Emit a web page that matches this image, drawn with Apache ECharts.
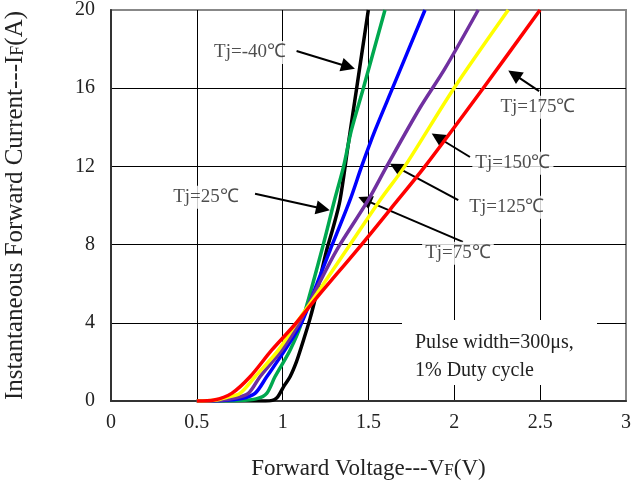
<!DOCTYPE html>
<html><head><meta charset="utf-8">
<script src="https://cdn.jsdelivr.net/npm/echarts@6/dist/echarts.min.js"></script>
<style>html,body{margin:0;padding:0;background:#fff}#c{width:632px;height:484px}</style>
</head><body><div id="c"></div>
<script>
// Forward voltage (V) vs instantaneous forward current (A) per junction temperature
const tjM40 = [[0.5,0],[0.9,0],[0.94,0.03],[0.965,0.15],[0.984,0.39],[1.01,0.8],[1.043,1.24],[1.08,2.0],[1.11,2.8],[1.159,4.2],[1.2,5.6],[1.256,7.71],[1.295,8.9],[1.334,10.27],[1.38,13],[1.431,16],[1.499,20]];
const tj25 = [[0.5,0],[0.75,0.02],[0.85,0.12],[0.907,0.39],[0.955,1.24],[1.043,2.6],[1.11,4],[1.228,7.71],[1.302,10.27],[1.355,12],[1.40,13.84],[1.47,16],[1.596,20]];
const tj75 = [[0.5,0],[0.65,0.02],[0.76,0.12],[0.839,0.39],[0.907,1.24],[1.013,2.6],[1.11,4],[1.2,6.0],[1.276,7.71],[1.392,10.27],[1.46,12],[1.538,13.84],[1.64,16],[1.829,20]];
const tj125 = [[0.5,0],[0.62,0.03],[0.72,0.15],[0.8,0.39],[0.868,1.24],[0.994,2.6],[1.097,4],[1.2,5.8],[1.314,7.71],[1.498,10.27],[1.606,12],[1.8,15],[1.945,17],[2.139,20]];
const tj150 = [[0.5,0],[0.6,0.04],[0.68,0.2],[0.751,0.39],[0.839,1.24],[0.975,2.6],[1.081,4],[1.2,5.5],[1.385,7.9],[1.567,10.27],[1.711,12],[1.998,16],[2.314,20]];
const tj175 = [[0.5,0],[0.6,0.05],[0.703,0.39],[0.81,1.24],[0.936,2.6],[1.07,3.9],[1.2,5.3],[1.45,7.9],[1.67,10.27],[1.829,12],[2.168,16],[2.499,20]];

const seriesNames = ['Tj=-40℃','Tj=25℃','Tj=75℃','Tj=125℃','Tj=150℃','Tj=175℃'];
const seriesData = [tjM40, tj25, tj75, tj125, tj150, tj175];
const seriesColors = ['#000000','#00A84F','#0000FF','#7030A0','#FFFF00','#FF0000'];

// annotation labels (centre, in V / A)
const labelTexts = ['Tj=-40℃','Tj=25℃','Tj=175℃','Tj=150℃','Tj=125℃','Tj=75℃'];
const labelPos = [[0.81,17.83],[0.553,10.42],[2.487,15.02],[2.341,12.16],[2.306,9.91],[2.021,7.56]];
// arrows: [fromV, fromI, headV, headI]
const arrows = [[1.081,17.9,1.382,17.1],[0.839,10.6,1.235,9.83],[2.494,15.85,2.348,16.71],[2.091,12.48,1.903,13.49],[2.023,10.27,1.661,11.97],[2.05,8.14,1.478,10.29]];

const noteText = 'Pulse width=300μs,\n1% Duty cycle';
const xTitle = 'Forward Voltage---V';
const yTitle = 'Instantaneous Forward Current---I';

const FONT = '"Liberation Serif", "Times New Roman", serif';
const chart = echarts.init(document.getElementById('c'), null, {renderer:'canvas'});

const lineSeries = seriesNames.map((n,i)=>({
  name:n, type:'line', data:seriesData[i], showSymbol:false, smooth:0.3,
  lineStyle:{color:seriesColors[i], width:3.5}, itemStyle:{color:seriesColors[i]},
  z:2+i, silent:true, animation:false
}));

const labelSeries = {
  type:'scatter', symbolSize:0, z:20, silent:true, animation:false,
  data: labelTexts.map((t,i)=>({name:t, value:labelPos[i]})),
  label:{show:true, position:'inside', formatter:'{b}', fontFamily:FONT, fontSize:19, color:'#222',
         backgroundColor:'#fff', padding:[2,3]}
};

const arrowSeries = {
  type:'line', data:[], z:21, silent:true, animation:false,
  markLine:{
    silent:true, animation:false, symbol:['none','triangle'], symbolSize:14,
    label:{show:false}, lineStyle:{color:'#000', width:2, type:'solid'},
    itemStyle:{color:'#000'},
    data: arrows.map(a=>[
      {coord:[a[0],a[1]], symbol:'none'},
      {coord:[a[2],a[3]], symbol:'triangle', symbolSize:14}
    ])
  }
};

const xRich = {a:{fontFamily:FONT, fontSize:23, color:'#222'}, s:{fontFamily:FONT, fontSize:17, color:'#222', verticalAlign:'bottom', padding:[0,0,1,0]}};
const yRich = {a:{fontFamily:FONT, fontSize:25, color:'#222'}, s:{fontFamily:FONT, fontSize:18, color:'#222', verticalAlign:'bottom', padding:[0,0,1,0]}};

chart.setOption({
  backgroundColor:'#fff',
  animation:false,
  grid:{left:111, right:6, top:10, bottom:83, outerBoundsMode:'none', containLabel:false,
        show:true, borderColor:'#888', borderWidth:2, backgroundColor:'transparent'},
  xAxis:{
    type:'value', min:0, max:3, interval:0.5,
    name:'{a|'+xTitle+'}{s|F}{a|(V)}', nameLocation:'middle', nameGap:56,
    nameTextStyle:{rich:xRich},
    axisLine:{show:true, onZero:false, lineStyle:{color:'#333', width:2}},
    axisTick:{show:false},
    splitLine:{show:true, showMinLine:false, showMaxLine:false, lineStyle:{color:'#000', width:1}},
    axisLabel:{fontFamily:FONT, fontSize:20, color:'#222', margin:12}
  },
  yAxis:{
    type:'value', min:0, max:20, interval:4,
    name:'{a|'+yTitle+'}{s|F}{a|(A)}', nameLocation:'middle', nameGap:83,
    nameTextStyle:{rich:yRich},
    axisLine:{show:true, onZero:false, lineStyle:{color:'#333', width:2}},
    axisTick:{show:false},
    splitLine:{show:true, showMinLine:false, showMaxLine:false, lineStyle:{color:'#000', width:1}},
    axisLabel:{fontFamily:FONT, fontSize:20, color:'#222', margin:16}
  },
  graphic:[
    {type:'rect', left:402, top:320, z:5, shape:{width:195, height:65}, style:{fill:'#fff'}},
    {type:'text', left:415, top:329, z:6, style:{text:noteText, font:'20px '+FONT, fill:'#222', lineHeight:28}}
  ],
  series: lineSeries.concat([labelSeries, arrowSeries])
});
</script></body></html>
